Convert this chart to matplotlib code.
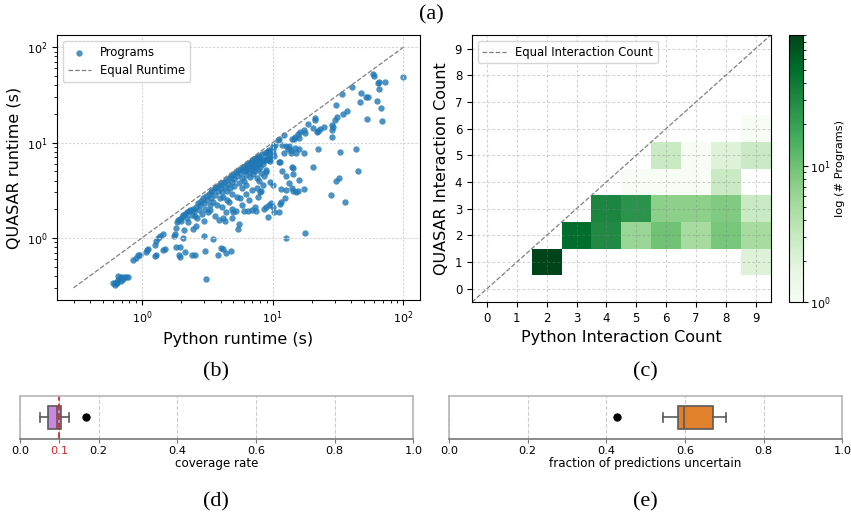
import numpy as np
import matplotlib.pyplot as plt
from matplotlib.colors import LogNorm

# (b) per-program runtimes in seconds (Python vs QUASAR)
python_runtime = [
    # small programs cluster
    0.60, 0.625, 0.64, 0.66, 0.675, 0.66, 0.695, 0.715, 0.735, 0.755, 0.78, 0.65, 0.69, 0.62,
    # lower left
    0.86, 0.90, 0.94, 0.97, 1.07, 1.10, 1.12, 1.27, 1.29, 1.27, 1.29, 1.33, 1.38, 1.44, 1.45, 1.49,
    1.76, 1.79, 1.83, 1.95, 1.92, 1.97, 2.06, 2.13, 1.83, 2.09, 2.41, 2.56, 2.96, 3.52, 3.04, 3.84,
    4.05, 4.19, 4.38, 4.84, 3.1,
    # band near diagonal
    1.85, 1.90, 1.96, 2.02, 2.08, 2.15, 2.22, 2.28, 2.34, 2.0, 2.2, 2.4, 2.45, 2.5, 2.55, 2.6,
    2.65, 2.7, 2.75, 2.8, 2.85, 2.9, 2.95, 3.0, 3.05, 3.1, 3.15, 3.2, 3.25, 3.3,
    3.35, 3.4, 3.45, 3.5, 3.6, 3.65, 3.7, 3.75, 3.8, 3.9, 3.95, 4.0, 4.05, 4.1, 4.2, 4.25, 4.3,
    4.4, 4.45, 4.5, 4.55, 4.6, 4.7, 4.8, 4.85, 4.9, 5.0, 5.05, 5.1, 5.2, 5.3, 5.35, 5.45, 5.5,
    5.6, 5.7, 5.8, 5.85, 5.9, 6.0, 6.05, 6.1, 6.2, 6.25, 6.3,
    6.4, 6.5, 6.55, 6.6, 6.7, 6.75, 6.8, 6.9, 6.95, 7.0, 7.05, 7.1, 7.15, 7.2, 7.25, 7.3, 7.4,
    7.45, 7.5, 7.55, 7.6, 7.7, 7.75, 7.8, 7.9, 8.0, 8.05, 8.1, 8.2, 8.3, 8.4, 8.5, 8.6, 8.7,
    8.8, 8.9, 9.0, 9.2, 9.4, 9.6, 10.0, 10.2,
    # lower band
    3.3, 3.6, 3.9, 4.1, 4.3, 4.2, 4.6, 4.9, 5.0, 5.2, 5.5, 5.45, 5.6, 5.8, 6.0, 6.3, 6.5, 6.6,
    6.9, 7.0, 7.3, 7.5, 7.7, 8.0, 8.6, 8.2, 7.6, 8.5, 7.9,
    2.44, 2.27, 2.6, 3.0, 4.4, 4.9,
    # upper right
    58.3, 59, 64.4, 65.5, 72.6, 98.5, 65.5, 63, 67.3, 68.3, 52.6, 47.5, 51.5, 53.6, 46.7, 40.6,
    34, 30.5, 37, 34.2, 30.8, 30, 28.2, 28.6, 29.1, 21.2, 21.2, 18.7, 17.3, 17.8, 16.3, 20.5,
    22.4, 23.2, 24.5, 21.8, 28.2, 15.7, 15.9, 14.8, 14.5, 14.1, 12.2, 11.2, 10.9,
    # right, below diagonal
    10, 10.4, 11.8, 12.6, 13.4, 13, 13.8, 14.8, 15.9, 12.2, 13.8, 15, 10, 9.2, 9.6, 8.9, 11.2,
    14.1, 20.5, 22.4, 32.7, 43.1, 17.5, 9.2, 9.5, 11.3, 14.4, 14.4, 11.7, 12.6, 8.9, 44.9, 30.3,
    32.3, 15.9, 13.3, 9.5, 10, 11.5, 12.6, 14.1, 14.3, 15, 15.7, 17.3, 28.1, 35.6, 12.4, 11.5,
    11.3, 9.67, 9.4, 10, 10.3, 11.1, 8.9, 9.2, 12.6, 17.8,
]
quasar_runtime = [
    0.335, 0.32, 0.345, 0.36, 0.38, 0.40, 0.39, 0.37, 0.385, 0.39, 0.385, 0.335, 0.355, 0.34,
    0.585, 0.62, 0.655, 0.67, 0.715, 0.745, 0.77, 0.645, 0.66, 0.84, 0.93, 1.0, 1.04, 1.11, 0.745, 0.775,
    1.06, 1.11, 0.81, 0.81, 0.66, 0.635, 1.0, 0.715, 1.27, 1.22, 0.66, 0.66, 1.05, 0.98, 0.725, 0.67,
    0.79, 0.76, 0.70, 0.725, 0.37,
    1.47, 1.53, 1.58, 1.65, 1.72, 1.78, 1.85, 1.92, 1.97, 1.5, 1.6, 1.75, 2.0, 1.9, 1.7, 2.1,
    1.6, 2.3, 1.95, 2.2, 2.45, 1.8, 2.6, 2.3, 2.0, 2.75, 2.5, 1.85, 2.9, 2.2,
    3.0, 2.6, 3.15, 2.4, 3.3, 2.8, 3.45, 2.2, 3.1, 3.6, 2.6, 3.35, 3.8, 3.0, 2.7, 3.9, 3.4,
    4.1, 3.1, 2.5, 3.7, 4.3, 3.3, 4.5, 2.9, 3.9, 4.7, 3.5, 4.2, 4.9, 2.7, 4.5, 5.1, 3.8,
    4.8, 5.3, 4.3, 3.3, 5.5, 5.0, 4.0, 5.7, 3.6, 5.2, 4.6,
    5.9, 5.4, 4.9, 6.1, 5.6, 4.4, 6.3, 5.8, 5.2, 6.5, 6.0, 4.7, 5.5, 6.7, 6.2, 5.0, 6.9,
    5.8, 6.4, 4.3, 7.1, 6.0, 5.3, 6.6, 7.3, 5.6, 6.2, 4.8, 6.8, 7.5, 5.9, 6.4, 4.5, 7.8,
    6.6, 5.2, 8.0, 7.0, 8.3, 7.4, 8.6, 7.3,
    1.95, 1.7, 1.55, 2.1, 1.5, 1.62, 2.4, 2.0, 1.85, 1.9, 1.4, 1.25, 2.6, 2.2, 1.9, 2.9, 1.9, 2.5,
    1.95, 3.2, 2.1, 1.9, 2.7, 3.0, 2.0, 3.1, 3.3, 3.6, 4.0,
    1.25, 1.47, 1.35, 1.5, 1.85, 1.6,
    52.3, 50, 41.9, 43.5, 42.9, 48.3, 36.3, 27, 22.8, 16.7, 17.8, 33.4, 30.4, 30, 26.6, 38,
    32.4, 24.7, 21.2, 20, 18.4, 17.4, 15.1, 13.7, 14.6, 18.1, 17.4, 15.8, 13.7, 12.6, 12.8, 14.2,
    13.1, 13.9, 14.6, 12.8, 11.5, 12.2, 11.2, 11.5, 10.9, 10.8, 11.9, 10.8, 10.6,
    9.2, 9.4, 9.5, 9.2, 9.3, 8.5, 8.3, 8.7, 8.5, 7.8, 7.8, 7.8, 7.8, 8.2, 6.7, 6.7, 6.2,
    5.5, 5.6, 8.5, 8.0, 8.5, 7.8, 6.6, 6.4, 6.25, 5.4, 4.7, 5.0, 4.5, 4.9, 5.05, 3.97,
    4.3, 4.04, 3.76, 3.9, 3.6, 3.25, 3.2, 3.3, 3.1, 3.05, 3.1, 3.25, 2.82, 2.4, 2.6, 2.4,
    2.27, 2.33, 2.22, 2.1, 1.89, 1.89, 2.1, 1.65, 1.0, 1.13,
]
equal_line = [0.3, 100]

# (c) interaction count histogram cells
cell_python = [2, 3, 4, 4, 5, 5, 6, 6, 7, 7, 8, 8, 9, 9, 9, 5, 6, 7, 8, 6, 7, 8, 9, 9]
cell_quasar = [1, 2, 2, 3, 3, 2, 2, 3, 2, 3, 2, 3, 2, 3, 1, 4, 4, 4, 4, 5, 5, 5, 5, 6]
cell_count = [90, 50, 30, 33, 25, 6, 10, 7, 5, 7, 9, 8, 5, 3, 2, 1, 1, 1, 3, 3, 1, 2, 3, 1]

# (d) / (e) box plot summaries
coverage_stats = dict(med=0.095, q1=0.070, q3=0.103, whislo=0.051, whishi=0.124, fliers=[0.168])
uncertain_stats = dict(med=0.597, q1=0.583, q3=0.671, whislo=0.545, whishi=0.705, fliers=[0.426])
target_coverage = 0.1

fig = plt.figure(figsize=(8.51, 5.17), dpi=100)

# ---- (b) runtime scatter
ax1 = fig.add_axes([0.067, 0.42, 0.4265, 0.512])
ax1.scatter(python_runtime, quasar_runtime, s=21, color="#1f77b4", alpha=0.8,
            linewidths=0, label="Programs")
ax1.plot(equal_line, equal_line, color="gray", linestyle="--", linewidth=0.9,
         label="Equal Runtime")
ax1.set_xscale("log")
ax1.set_yscale("log")
ax1.set_xlabel("Python runtime (s)", fontsize=11.5)
ax1.set_ylabel("QUASAR runtime (s)", fontsize=11.5)
ax1.tick_params(labelsize=8)
ax1.grid(True, which="major", linestyle=(0, (2, 1.5)), color="#d5d5d5", linewidth=0.8)
ax1.legend(loc="upper left", fontsize=8.4)

# ---- (c) interaction count heatmap
ax2 = fig.add_axes([0.5546, 0.4155, 0.351, 0.5165])
bins = np.arange(-0.5, 10.5, 1)
h = ax2.hist2d(cell_python, cell_quasar, bins=[bins, bins], weights=cell_count,
               cmap="Greens", norm=LogNorm(), cmin=1)
ax2.plot([-0.5, 9.5], [-0.5, 9.5], color="gray", linestyle="--", linewidth=0.9,
         label="Equal Interaction Count")
ax2.set_xticks(range(10))
ax2.set_yticks(range(10))
ax2.tick_params(labelsize=8.5)
ax2.set_xlabel("Python Interaction Count", fontsize=11.5)
ax2.set_ylabel("QUASAR Interaction Count", fontsize=11.5)
ax2.grid(True, linestyle=(0, (2.5, 2)), color="gray", alpha=0.35, linewidth=0.8)
ax2.legend(loc="upper left", fontsize=8.4)

cax = fig.add_axes([0.927, 0.4155, 0.0165, 0.5165])
cb = fig.colorbar(h[3], cax=cax)
cb.ax.tick_params(labelsize=8, pad=1.5)
cb.set_label("log (# Programs)", fontsize=8.2, labelpad=3)


# ---- (d), (e) box plots
def draw_box(ax, stats, color, label):
    ax.bxp([stats], positions=[0], widths=0.53, orientation="horizontal",
           patch_artist=True, capwidths=0.22,
           boxprops=dict(facecolor=color, edgecolor="#5a5a5a", linewidth=1.2),
           whiskerprops=dict(color="#5a5a5a", linewidth=1.2),
           capprops=dict(color="#5a5a5a", linewidth=1.2),
           medianprops=dict(color="#5a5a5a", linewidth=1.2),
           flierprops=dict(marker="o", markerfacecolor="black",
                           markeredgecolor="black", markersize=5))
    ax.set_xlim(0, 1)
    ax.set_ylim(-0.5, 0.5)
    ax.set_yticks([])
    ax.set_xlabel(label, fontsize=8.6, labelpad=1)
    ax.grid(True, axis="x", linestyle="--", color="#cccccc", linewidth=0.8)
    ax.set_axisbelow(True)
    for side in ["top", "left", "right"]:
        ax.spines[side].set_color("#b5b5b5")
        ax.spines[side].set_linewidth(1.2)
    ax.spines["bottom"].set_color("#777777")
    ax.spines["bottom"].set_linewidth(1.2)
    ax.tick_params(axis="x", labelsize=8.2, color="#777777", length=3, pad=2)


ax3 = fig.add_axes([0.0235, 0.151, 0.4622, 0.0836])
draw_box(ax3, coverage_stats, "#c987e2", "coverage rate")
ax3.axvline(target_coverage, color="#d62728", linestyle="--", linewidth=1.3)
ax3.set_xticks([0.0, 0.1, 0.2, 0.4, 0.6, 0.8, 1.0])
ax3.set_xticklabels(["0.0", "0.1", "0.2", "0.4", "0.6", "0.8", "1.0"])
ax3.get_xticklabels()[1].set_color("#d62728")

ax4 = fig.add_axes([0.5276, 0.151, 0.4622, 0.0836])
draw_box(ax4, uncertain_stats, "#e1812c", "fraction of predictions uncertain")
ax4.set_xticks([0.0, 0.2, 0.4, 0.6, 0.8, 1.0])

# panel letters
letter_font = dict(fontsize=16, family="Liberation Serif", ha="center", va="center")
fig.text(0.507, 0.971, "(a)", **letter_font)
fig.text(0.2535, 0.28, "(b)", **letter_font)
fig.text(0.758, 0.28, "(c)", **letter_font)
fig.text(0.2535, 0.0296, "(d)", **letter_font)
fig.text(0.758, 0.0296, "(e)", **letter_font)

fig.savefig("out.png", dpi=100)
